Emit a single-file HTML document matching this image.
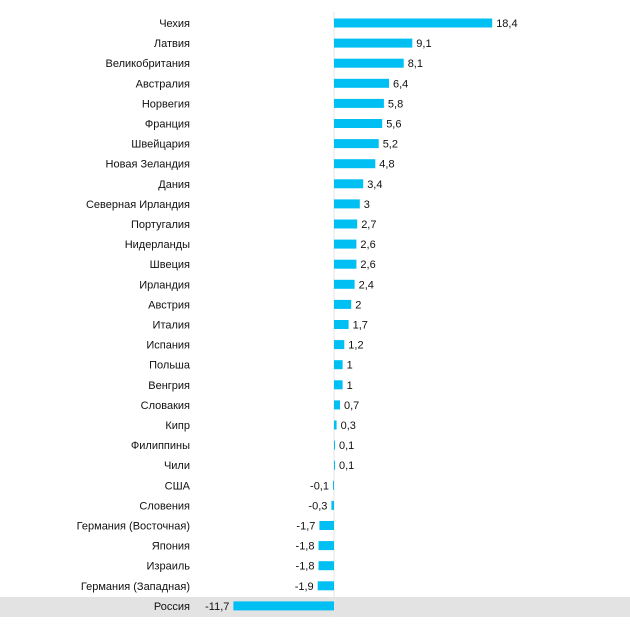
<!DOCTYPE html>
<html><head><meta charset="utf-8"><style>
body{margin:0;background:#fff;}
text{font-family:"Liberation Sans",sans-serif;font-size:11px;fill:#111;}
.l{text-anchor:end;}
rect.b{fill:#00bff3;}
</style></head><body>
<svg width="630" height="630" xmlns="http://www.w3.org/2000/svg">
<rect x="0" y="597" width="630" height="20" fill="#e3e3e3"/>
<line x1="334" y1="12" x2="334" y2="617" stroke="#e6e6e6" stroke-width="1"/>

<text class="l" x="190" y="27">Чехия</text><rect class="b" x="334" y="18.5" width="158.2" height="9"/><text x="496.2" y="27">18,4</text>
<text class="l" x="190" y="47.1">Латвия</text><rect class="b" x="334" y="38.6" width="78.3" height="9"/><text x="416.3" y="47.1">9,1</text>
<text class="l" x="190" y="67.2">Великобритания</text><rect class="b" x="334" y="58.7" width="69.7" height="9"/><text x="407.7" y="67.2">8,1</text>
<text class="l" x="190" y="87.3">Австралия</text><rect class="b" x="334" y="78.8" width="55" height="9"/><text x="393" y="87.3">6,4</text>
<text class="l" x="190" y="107.4">Норвегия</text><rect class="b" x="334" y="98.9" width="49.9" height="9"/><text x="387.9" y="107.4">5,8</text>
<text class="l" x="190" y="127.5">Франция</text><rect class="b" x="334" y="119" width="48.2" height="9"/><text x="386.2" y="127.5">5,6</text>
<text class="l" x="190" y="147.6">Швейцария</text><rect class="b" x="334" y="139.1" width="44.7" height="9"/><text x="382.7" y="147.6">5,2</text>
<text class="l" x="190" y="167.7">Новая Зеландия</text><rect class="b" x="334" y="159.2" width="41.3" height="9"/><text x="379.3" y="167.7">4,8</text>
<text class="l" x="190" y="187.8">Дания</text><rect class="b" x="334" y="179.3" width="29.2" height="9"/><text x="367.2" y="187.8">3,4</text>
<text class="l" x="190" y="207.9">Северная Ирландия</text><rect class="b" x="334" y="199.4" width="25.8" height="9"/><text x="363.8" y="207.9">3</text>
<text class="l" x="190" y="228">Португалия</text><rect class="b" x="334" y="219.5" width="23.2" height="9"/><text x="361.2" y="228">2,7</text>
<text class="l" x="190" y="248.1">Нидерланды</text><rect class="b" x="334" y="239.6" width="22.4" height="9"/><text x="360.4" y="248.1">2,6</text>
<text class="l" x="190" y="268.2">Швеция</text><rect class="b" x="334" y="259.7" width="22.4" height="9"/><text x="360.4" y="268.2">2,6</text>
<text class="l" x="190" y="288.3">Ирландия</text><rect class="b" x="334" y="279.8" width="20.6" height="9"/><text x="358.6" y="288.3">2,4</text>
<text class="l" x="190" y="308.4">Австрия</text><rect class="b" x="334" y="299.9" width="17.2" height="9"/><text x="355.2" y="308.4">2</text>
<text class="l" x="190" y="328.5">Италия</text><rect class="b" x="334" y="320" width="14.6" height="9"/><text x="352.6" y="328.5">1,7</text>
<text class="l" x="190" y="348.6">Испания</text><rect class="b" x="334" y="340.1" width="10.3" height="9"/><text x="348.3" y="348.6">1,2</text>
<text class="l" x="190" y="368.7">Польша</text><rect class="b" x="334" y="360.2" width="8.6" height="9"/><text x="346.6" y="368.7">1</text>
<text class="l" x="190" y="388.8">Венгрия</text><rect class="b" x="334" y="380.3" width="8.6" height="9"/><text x="346.6" y="388.8">1</text>
<text class="l" x="190" y="408.9">Словакия</text><rect class="b" x="334" y="400.4" width="6" height="9"/><text x="344" y="408.9">0,7</text>
<text class="l" x="190" y="429">Кипр</text><rect class="b" x="334" y="420.5" width="2.6" height="9"/><text x="340.6" y="429">0,3</text>
<text class="l" x="190" y="449.1">Филиппины</text><rect class="b" x="334" y="440.6" width="1" height="9"/><text x="339" y="449.1">0,1</text>
<text class="l" x="190" y="469.2">Чили</text><rect class="b" x="334" y="460.7" width="1" height="9"/><text x="339" y="469.2">0,1</text>
<text class="l" x="190" y="489.3">США</text><rect class="b" x="333" y="480.8" width="1" height="9"/><text class="l" x="329" y="489.3">-0,1</text>
<text class="l" x="190" y="509.4">Словения</text><rect class="b" x="331.4" y="500.9" width="2.6" height="9"/><text class="l" x="327.4" y="509.4">-0,3</text>
<text class="l" x="190" y="529.5">Германия (Восточная)</text><rect class="b" x="319.4" y="521" width="14.6" height="9"/><text class="l" x="315.4" y="529.5">-1,7</text>
<text class="l" x="190" y="549.6">Япония</text><rect class="b" x="318.5" y="541.1" width="15.5" height="9"/><text class="l" x="314.5" y="549.6">-1,8</text>
<text class="l" x="190" y="569.7">Израиль</text><rect class="b" x="318.5" y="561.2" width="15.5" height="9"/><text class="l" x="314.5" y="569.7">-1,8</text>
<text class="l" x="190" y="589.8">Германия (Западная)</text><rect class="b" x="317.7" y="581.3" width="16.3" height="9"/><text class="l" x="313.7" y="589.8">-1,9</text>
<text class="l" x="190" y="609.9">Россия</text><rect class="b" x="233.4" y="601.4" width="100.6" height="9"/><text class="l" x="229.4" y="609.9">-11,7</text>
</svg>
</body></html>
